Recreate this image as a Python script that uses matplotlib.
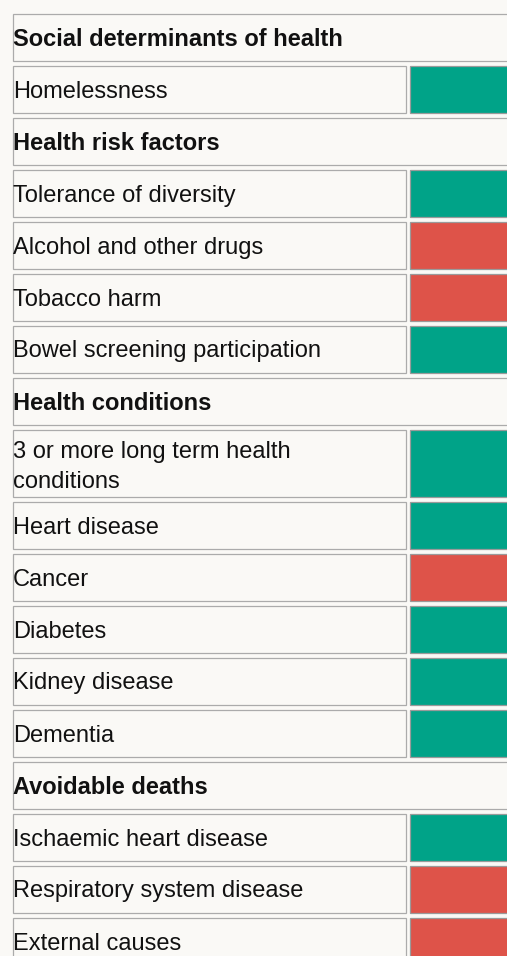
import matplotlib
matplotlib.use("Agg")
import matplotlib.pyplot as plt
from matplotlib.patches import Rectangle

# ---- data ----
section_titles = ["Social determinants of health", "Health risk factors",
                  "Health conditions", "Avoidable deaths"]
indicators = ["Homelessness",
              "Tolerance of diversity", "Alcohol and other drugs", "Tobacco harm",
              "Bowel screening participation",
              "3 or more long term health\nconditions", "Heart disease", "Cancer",
              "Diabetes", "Kidney disease", "Dementia",
              "Ischaemic heart disease", "Respiratory system disease", "External causes"]
indicator_section = [0, 1, 1, 1, 1, 2, 2, 2, 2, 2, 2, 3, 3, 3]
indicator_status = ["better", "better", "worse", "worse", "better",
                    "better", "better", "worse", "better", "better", "better",
                    "better", "worse", "worse"]

status_colors = {"better": "#00A388", "worse": "#DE5349"}
bg = "#FAF9F6"
border = "#ABABAB"

W, H = 507, 956
fig = plt.figure(figsize=(W / 100, H / 100), dpi=100, facecolor=bg)
ax = fig.add_axes([0, 0, 1, 1])
ax.set_xlim(0, W)
ax.set_ylim(H, 0)
ax.axis("off")
ax.set_facecolor(bg)

fs = 17
lw = 0.9
left, label_right, color_left, right = 12.5, 405.5, 409.5, 530
line_h = 47
extra_line = 20
gap = 5
text_dy_single = 32
text_dy_multi = 28
line_step = 30

rows = []
cur = None
for lab, sec, st in zip(indicators, indicator_section, indicator_status):
    if sec != cur:
        rows.append((section_titles[sec], None))
        cur = sec
    rows.append((lab, st))

y = 13.5
for lab, st in rows:
    lines = lab.split("\n")
    nlines = len(lines)
    h = line_h + extra_line * (nlines - 1)
    if st is None:
        ax.add_patch(Rectangle((left, y), right - left, h, facecolor=bg,
                               edgecolor=border, linewidth=lw))
        weight = "bold"
    else:
        ax.add_patch(Rectangle((left, y), label_right - left, h, facecolor=bg,
                               edgecolor=border, linewidth=lw))
        ax.add_patch(Rectangle((color_left, y), right - color_left, h,
                               facecolor=status_colors[st], edgecolor="#9A9A9A",
                               linewidth=lw))
        weight = "normal"
    ty = y + (text_dy_multi if nlines > 1 else text_dy_single)
    for i, ln in enumerate(lines):
        ax.text(left + 0.5, ty + i * line_step, ln, fontsize=fs, fontweight=weight,
                family="Liberation Sans", color="#111111", va="baseline")
    y += h + gap

fig.savefig("out.png", dpi=100, facecolor=bg)
